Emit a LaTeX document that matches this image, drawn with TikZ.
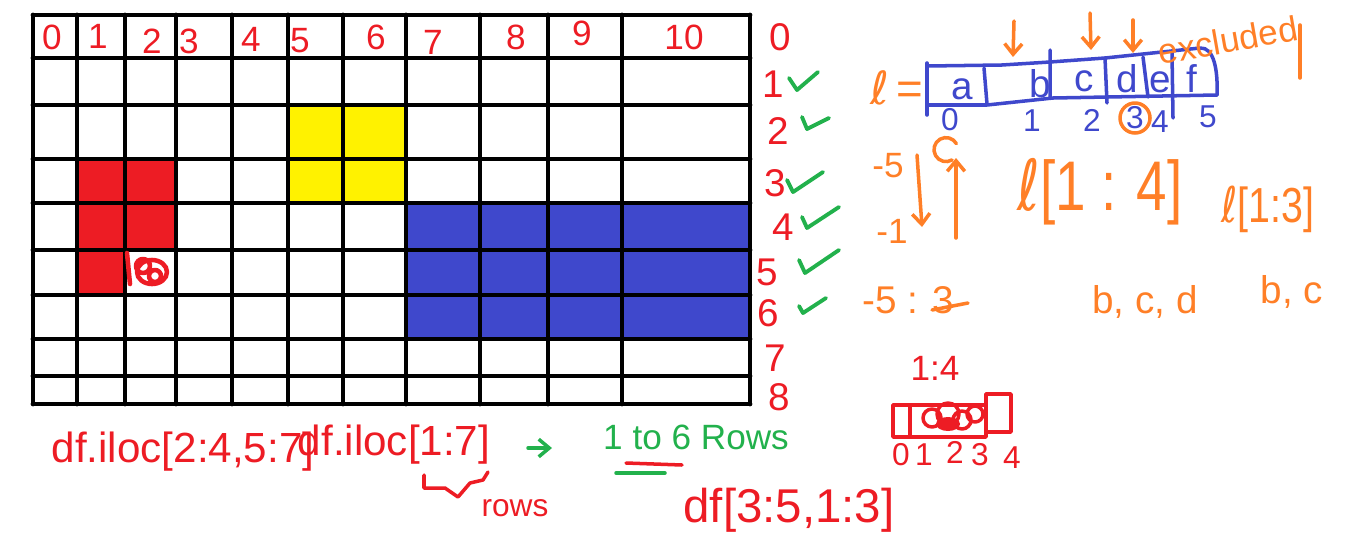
\documentclass[tikz,border=0pt]{standalone}
\usepackage{fontspec}
\setmainfont{Liberation Sans}
\newfontfamily\ellfont{DejaVu Sans}
\usetikzlibrary{arrows.meta}
\definecolor{penred}{RGB}{237,28,36}
\definecolor{pengreen}{RGB}{34,177,76}
\definecolor{penblue}{RGB}{63,72,204}
\definecolor{penorange}{RGB}{255,127,39}
\definecolor{paintyellow}{RGB}{255,242,0}
\newcommand{\handsize}[1]{\fontsize{#1}{#1}\selectfont}

\begin{document}
\begin{tikzpicture}[x=0.02cm, y=-0.02cm,
    gridline/.style={line width=2.8pt, line cap=round},
    colnum/.style={text=penred, font=\handsize{20}, inner sep=0pt},
    rownum/.style={text=penred, font=\handsize{22}, inner sep=0pt},
    cell/.style={text=penblue, font=\handsize{22}, inner sep=0pt},
    idx/.style={text=penblue, font=\handsize{18}, inner sep=0pt},
    redtext/.style={text=penred, inner sep=0pt},
    orangetext/.style={text=penorange, inner sep=0pt},
    tick/.style={draw=pengreen, line width=2.2pt, line cap=round, line join=round},
    redpen/.style={draw=penred, line width=2pt, line cap=round, line join=round},
    bluepen/.style={draw=penblue, line width=2pt, line cap=round, line join=round},
    orangepen/.style={draw=penorange, line width=2pt, line cap=round, line join=round},
    penarrow/.style={-{Straight Barb[length=6pt, width=10pt]}}
]
    \useasboundingbox (0,0) rectangle (1355,558);

    \fill[paintyellow] (288,105) rectangle (406,203);
    \fill[penred] (77,159) rectangle (176,250) (77,250) rectangle (125,295);
    \fill[penblue] (406,203) rectangle (750,339);
    \foreach \gx in {33,77,125,176,232,288,343,406,480,548,622,750}
        \draw[gridline] (\gx,15) -- (\gx,404);
    \foreach \gy in {15,58,105,159,203,250,295,339,376,404}
        \draw[gridline] (33,\gy) -- (750,\gy);
    \draw[redpen, line width=2.6pt] (127,253) -- (130,284) (152,272) ellipse[x radius=15, y radius=12]
        (143,266) circle[radius=7] (155,276) circle[radius=6];

    \node[colnum] (c0) at (52,37) {0};   \node[colnum] (c1) at (98,36) {1};
    \node[colnum] (c2) at (152,41) {2};  \node[colnum] (c3) at (189,41) {3};
    \node[colnum] (c4) at (251,39) {4};  \node[colnum] (c5) at (300,41) {5};
    \node[colnum] (c6) at (376,37) {6};  \node[colnum] (c7) at (433,42) {7};
    \node[colnum] (c8) at (516,37) {8};  \node[colnum] (c9) at (582,33) {9};
    \node[colnum] (c10) at (684,37) {10};

    \node[rownum] (r0) at (780,37) {0};  \node[rownum] (r1) at (773,84) {1};
    \node[rownum] (r2) at (778,131) {2}; \node[rownum] (r3) at (775,183) {3};
    \node[rownum] (r4) at (783,227) {4}; \node[rownum] (r5) at (767,272) {5};
    \node[rownum] (r6) at (768,313) {6}; \node[rownum] (r7) at (775,358) {7};
    \node[rownum] (r8) at (779,397) {8};
    \draw[tick] (789,78) -- (797,90) -- (818,72);
    \draw[tick] (802,117) -- (807,129) -- (829,118);
    \draw[tick] (787,180) -- (793,192) -- (823,172);
    \draw[tick] (802,217) -- (807,228) -- (839,207);
    \draw[tick] (799,260) -- (805,273) -- (839,250);
    \draw[tick] (799,306) -- (803,313) -- (826,298);

    \node[orangetext, font=\handsize{26}] (lname) at (897,88) {{\ellfont ℓ}\,=};
    \draw[bluepen] (927,63) -- (927,115);
    \draw[bluepen] (927,66) -- (1002,65) -- (1050,62) -- (1105,58) -- (1200,48)
        .. controls (1214,47) and (1218,70) .. (1217,95);
    \draw[bluepen] (927,105) -- (987,105) -- (1053,98) -- (1217,95);
    \draw[bluepen] (984,68) -- (987,104) (1050,50) -- (1050,98) (1105,58) -- (1107,103)
        (1143,57) -- (1148,97) (1172,53) -- (1173,118);
    \node[cell] (ca) at (962,89) {a};  \node[cell] (cb) at (1040,84) {b};
    \node[cell] (cc) at (1084,81) {c}; \node[cell] (cd) at (1127,79) {d};
    \node[cell] (ce) at (1160,82) {e}; \node[cell] (cf) at (1192,79) {f};
    \node[idx] (i0) at (950,120) {0};  \node[idx] (i1) at (1032,121) {1};
    \node[idx] (i2) at (1092,120) {2}; \node[idx] (i3) at (1135,118) {3};
    \node[idx] (i4) at (1160,122) {4}; \node[idx] (i5) at (1208,117) {5};
    \draw[orangepen] (i3) circle[radius=15];

    \coordinate (ta) at (1014,21);  \coordinate (tb) at (1090,13);  \coordinate (tc) at (1133,20);
    \draw[orangepen, penarrow] (ta) -- (1013,57);
    \draw[orangepen, penarrow] (tb) -- (1091,50);
    \draw[orangepen, penarrow] (tc) -- (1133,53);
    \node[orangetext, font=\handsize{20}, rotate=10] (excl) at (1228,40) {excluded};
    \draw[orangepen] (1300,25) -- (1300,78);

    \node[orangetext, font=\handsize{20}] (neg5) at (888,166) {-5};
    \node[orangetext, font=\handsize{20}] (neg1) at (892,231) {-1};
    \coordinate (dtop) at (917,155);
    \draw[orangepen, penarrow] (dtop) -- (922,227);
    \coordinate (ubot) at (956,238);
    \draw[orangepen, penarrow] (ubot) -- (956,158);
    \draw[orangepen] (952,160) arc[start angle=60, end angle=330, radius=12];
    \node[orangetext, font=\handsize{40}, xscale=0.78] (slice14) at (1100,192) {{\ellfont ℓ}[1 : 4]};
    \node[orangetext, font=\handsize{28}, xscale=0.8] (slice13) at (1268,209) {{\ellfont ℓ}[1:3]};
    \node[orangetext, font=\handsize{22}] (neg53) at (908,300) {-5 : 3};
    \draw[orangepen] (932,310) -- (968,303);
    \node[orangetext, font=\handsize{22}] (res14) at (1145,302) {b, c, d};
    \node[orangetext, font=\handsize{22}] (res13) at (1292,292) {b, c};

    \node[redtext, font=\handsize{20}] (r14) at (935,368) {1:4};
    \draw[redpen] (893,405) rectangle (986,437) (910,405) -- (910,437);
    \draw[redpen] (986,394) rectangle (1011,432);
    \draw[redpen] (932,418) circle[radius=9] (948,414) circle[radius=11] (962,420) circle[radius=9]
        (975,414) circle[radius=8];
    \fill[penred] (948,424) ellipse[x radius=12, y radius=7];
    \node[redtext, font=\handsize{18}] (a0) at (901,455) {0};
    \node[redtext, font=\handsize{18}] (a1) at (924,455) {1};
    \node[redtext, font=\handsize{18}] (a2) at (955,452) {2};
    \node[redtext, font=\handsize{18}] (a3) at (980,455) {3};
    \node[redtext, font=\handsize{18}] (a4) at (1012,458) {4};

    \node[redtext, font=\handsize{24}] (iloc1) at (183,452) {df.iloc[2:4,5:7]};
    \node[redtext, font=\handsize{24}] (iloc2) at (394,445) {df.iloc[1:7]};
    \draw[redpen] (424,475) -- (424,488) -- (445,488) -- (458,497) -- (470,483) -- (483,480) -- (488,472);
    \node[redtext, font=\handsize{18}] (rows) at (515,508) {rows};
    \coordinate (gs) at (528,448);
    \draw[draw=pengreen, line width=2pt, line cap=round, penarrow] (gs) -- (552,448);
    \node[text=pengreen, inner sep=0pt, font=\handsize{20}] (sixrows) at (696,437) {1 to 6 Rows};
    \draw[redpen] (626,463) -- (682,465);
    \draw[draw=pengreen, line width=2pt, line cap=round] (616,473) -- (665,473);
    \node[redtext, font=\handsize{27}] (dfsl) at (789,510) {df[3:5,1:3]};
\end{tikzpicture}
\end{document}
